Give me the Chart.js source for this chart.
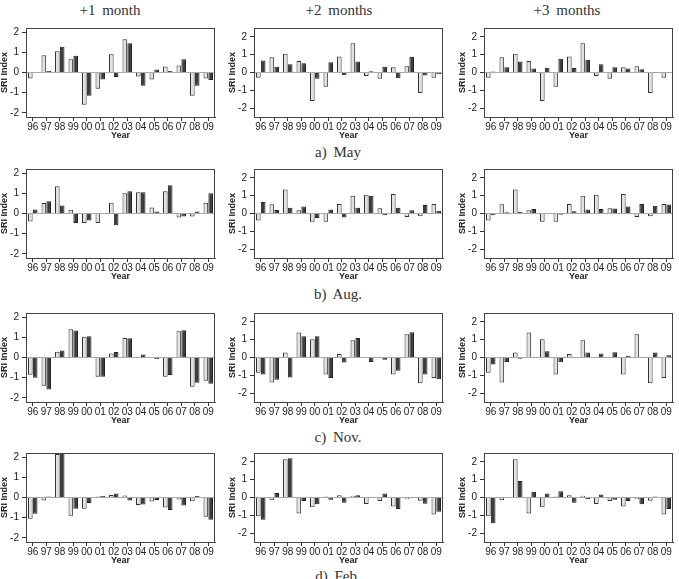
<!DOCTYPE html>
<html>
<head>
<meta charset="utf-8">
<script src="https://cdn.jsdelivr.net/npm/chart.js@4"></script>
<style>
body{margin:0;background:#fff;width:679px;height:579px;position:relative;overflow:hidden;}
canvas{position:absolute;}
.lbl{position:absolute;font-family:"Liberation Serif","DejaVu Serif",serif;font-size:15px;color:#333;transform:translate(-50%,-50%);white-space:nowrap;word-spacing:3px;}
</style>
</head>
<body>
<div class="lbl" style="left:110px;top:10px">+1 month</div>
<div class="lbl" style="left:339px;top:10px">+2 months</div>
<div class="lbl" style="left:567px;top:10px">+3 months</div>
<div class="lbl" style="left:338px;top:152px">a) May</div>
<div class="lbl" style="left:338px;top:294px">b) Aug.</div>
<div class="lbl" style="left:338px;top:437px">c) Nov.</div>
<div class="lbl" style="left:338px;top:576px">d) Feb.</div>

<script>
const years = ['96','97','98','99','00','01','02','03','04','05','06','07','08','09'];
const yTicks = [-2, -1, 0, 1, 2];

// observed SRI (light bars), same in every column of a row
const mayObs = [-0.3, 0.85, 1.05, 0.65, -1.6, -0.8, 0.9, 1.65, -0.2, -0.35, 0.3, 0.35, -1.15, -0.3];
const augObs = [-0.4, 0.52, 1.35, 0.18, -0.47, -0.47, 0.53, 1.0, 1.05, 0.3, 1.1, -0.2, -0.15, 0.53];
const novObs = [-0.85, -1.4, 0.28, 1.4, 1.02, -0.95, 0.2, 0.97, -0.03, 0.03, -0.95, 1.3, -1.45, -1.15];
const febObs = [-1.05, -0.15, 2.15, -0.9, -0.55, 0.05, 0.12, 0.1, -0.37, -0.2, -0.5, -0.1, -0.18, -0.95];

// forecast SRI (dark bars) for lead 1, 2, 3 months
const mayLead1 = [0.02, 0.07, 1.27, 0.83, -1.15, -0.35, -0.22, 1.45, -0.65, 0.15, 0.07, 0.65, -0.65, -0.37];
const mayLead2 = [0.68, 0.33, 0.47, 0.52, -0.35, 0.58, -0.15, 0.62, 0.07, 0.32, -0.32, 0.88, -0.17, -0.1];
const mayLead3 = [0.05, 0.3, 0.62, 0.22, 0.27, 0.77, 0.25, 0.72, 0.47, 0.3, 0.22, 0.18, 0.02, 0.0];
const augLead1 = [0.2, 0.6, 0.4, -0.47, -0.35, 0.0, -0.58, 1.1, 1.05, 0.1, 1.4, -0.15, 0.1, 1.0];
const augLead2 = [0.65, 0.2, 0.33, 0.4, -0.25, 0.22, -0.22, 0.32, 1.0, -0.1, 0.33, 0.18, 0.48, 0.15];
const augLead3 = [-0.1, 0.07, 0.08, 0.25, 0.0, -0.07, 0.12, 0.22, 0.25, 0.28, 0.4, 0.53, 0.43, 0.5];
const novLead1 = [-1.0, -1.58, 0.35, 1.33, 1.05, -0.95, 0.27, 0.95, 0.15, -0.08, -0.87, 1.35, -1.25, -1.3];
const novLead2 = [-0.95, -1.25, -1.12, 1.2, 1.2, -1.15, -0.28, 1.1, -0.25, -0.12, -0.75, 1.42, -0.95, -1.22];
const novLead3 = [-0.4, -0.25, -0.07, 0.0, 0.35, -0.27, -0.03, 0.28, 0.23, 0.3, 0.08, -0.02, 0.28, 0.12];
const febLead1 = [-0.8, 0.05, 2.2, -0.55, -0.27, 0.08, 0.2, -0.15, -0.35, -0.12, -0.62, -0.4, 0.08, -1.1];
const febLead2 = [-1.25, 0.25, 2.2, -0.2, -0.38, -0.12, -0.3, 0.12, 0.02, 0.22, -0.65, 0.03, -0.35, -0.8];
const febLead3 = [-1.45, 0.03, 0.92, 0.32, 0.22, 0.35, -0.3, -0.08, 0.17, -0.12, -0.2, -0.38, 0.05, -0.65];

const yRange = [2.2, 2.5, 2.5]; // per column

// plot box positions
const colLeft = [26, 254, 484];
const rowTop = [23, 164, 308, 448];
const boxW = 189, boxH = 94;

const rows = [
  [mayObs, [mayLead1, mayLead2, mayLead3]],
  [augObs, [augLead1, augLead2, augLead3]],
  [novObs, [novLead1, novLead2, novLead3]],
  [febObs, [febLead1, febLead2, febLead3]]
];

// draws the full box round the plot area
const frame = {
  id: 'frame',
  afterDatasetsDraw(chart) {
    const a = chart.chartArea, c = chart.ctx;
    c.save();
    c.strokeStyle = '#444';
    c.lineWidth = 1;
    c.strokeRect(Math.round(a.left) + 0.5, Math.round(a.top) + 0.5, Math.round(a.right - a.left) - 1, Math.round(a.bottom - a.top));
    c.restore();
  }
};

const tickFont = {family: '"Liberation Sans", Arial, sans-serif', size: 10};
const titleFont = {family: '"Liberation Sans", Arial, sans-serif', size: 9, weight: 'bold'};

function makePanel(r, col) {
  const cv = document.createElement('canvas');
  const left = colLeft[col] - 28, top = rowTop[r] - 4;
  cv.width = 28 + boxW + 3;
  cv.height = 4 + boxH + 24;
  cv.style.left = left + 'px';
  cv.style.top = top + 'px';
  document.body.appendChild(cv);
  const range = yRange[col];
  new Chart(cv, {
    type: 'bar',
    data: {
      labels: years,
      datasets: [
        {label: 'Observed', data: rows[r][0], backgroundColor: '#e2e2e2', borderColor: '#333', borderWidth: 1},
        {label: 'Forecast', data: rows[r][1][col], backgroundColor: '#3c3c3c', borderColor: '#222', borderWidth: 1}
      ]
    },
    options: {
      responsive: false,
      animation: false,
      devicePixelRatio: 1,
      layout: {padding: {top: 4, right: 3, left: 0, bottom: 0}},
      datasets: {bar: {categoryPercentage: 0.72, barPercentage: 0.95}},
      plugins: {legend: {display: false}, tooltip: {enabled: false}},
      scales: {
        x: {
          grid: {offset: false, drawOnChartArea: false, tickLength: 4, tickColor: '#333'},
          border: {color: '#444'},
          ticks: {padding: 0, color: '#222', font: tickFont, maxRotation: 0, autoSkip: false},
          title: {display: true, text: 'Year', color: '#222', font: titleFont, padding: 0},
          afterFit: s => { s.height = 24; }
        },
        y: {
          min: -range,
          max: range,
          afterBuildTicks: s => { s.ticks = yTicks.map(v => ({value: v})); },
          ticks: {padding: 3, color: '#222', font: tickFont},
          grid: {
            color: c => (c.tick && c.tick.value === 0) ? '#aaa' : 'rgba(0,0,0,0)',
            tickColor: '#333',
            tickLength: 4
          },
          border: {color: '#444'},
          title: {display: true, text: 'SRI Index', color: '#222', font: titleFont, padding: {top: 1, bottom: 0}},
          afterFit: s => { s.width = 28; }
        }
      }
    },
    plugins: [frame]
  });
}

for (let r = 0; r < 4; r++) {
  for (let c = 0; c < 3; c++) makePanel(r, c);
}
</script>
</body>
</html>
